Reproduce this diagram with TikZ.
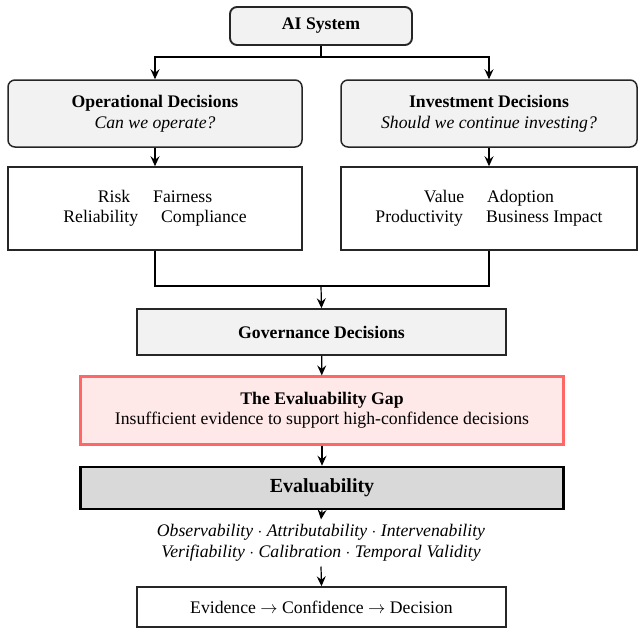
\documentclass[tikz,border=0pt]{standalone}
\usepackage{fontspec}
\setmainfont{Liberation Serif}
\usetikzlibrary{arrows.meta,calc}
\definecolor{boxgray}{HTML}{F2F2F2}
\definecolor{evalgray}{HTML}{D9D9D9}
\definecolor{gapfill}{HTML}{FFE8E8}
\definecolor{gapline}{HTML}{FF6666}
\begin{document}
\begin{tikzpicture}[x=1pt,y=-1pt,
  every node/.style={font=\fontsize{17.7}{20.5}\selectfont, align=center, inner sep=0pt},
  basebox/.style={draw=black!85, line width=1.5pt},
  roundbox/.style={basebox, rounded corners=7pt, fill=boxgray},
  plainbox/.style={basebox, fill=white},
  arr/.style={-{Stealth[length=10pt,width=9pt,inset=3.5pt]}, line width=1.2pt},
  conn/.style={line width=1.2pt}]
\useasboundingbox (0,0) rectangle (642,634);
\node[roundbox, line width=1.9pt, minimum width=182pt, minimum height=38pt] (ai) at (321,26) {\textbf{AI System}};
\node[roundbox, minimum width=294pt, minimum height=67pt] (op) at (155,113.5) {\textbf{Operational Decisions}\\\textit{Can we operate?}};
\node[roundbox, minimum width=296pt, minimum height=67pt] (inv) at (489,113.5) {\textbf{Investment Decisions}\\\textit{Should we continue investing?}};
\node[plainbox, minimum width=294pt, minimum height=83pt] (om) at (155,208.5) {Risk\hspace{23pt}Fairness\\Reliability\hspace{23pt}Compliance};
\node[plainbox, minimum width=296pt, minimum height=83pt] (im) at (489,208.5) {Value\hspace{23pt}Adoption\\Productivity\hspace{23pt}Business Impact};
\node[basebox, fill=boxgray, minimum width=369pt, minimum height=46pt] (gov) at (321.5,332) {\textbf{Governance Decisions}};
\node[draw=gapline, line width=2.2pt, fill=gapfill, minimum width=483pt, minimum height=68pt] (gap) at (322,410.5) {\textbf{The Evaluability Gap}\\Insufficient evidence to support high-confidence decisions};
\node[draw=black, line width=2.6pt, fill=evalgray, minimum width=483pt, minimum height=42pt] (eval) at (322,488) {\fontsize{20}{24}\selectfont\textbf{Evaluability}};
\node[inner sep=5pt] (dims) at (321,543) {\textit{Observability} $\cdot$ \textit{Attributability} $\cdot$ \textit{Intervenability}\\\textit{Verifiability} $\cdot$ \textit{Calibration} $\cdot$ \textit{Temporal Validity}};
\node[plainbox, minimum width=369pt, minimum height=40pt] (ev) at (321.5,607) {Evidence $\rightarrow$ Confidence $\rightarrow$ Decision};
\coordinate (j1) at (321,57);
\coordinate (j2) at (321,286);
\draw[conn] (ai.south) -- (j1);
\draw[arr] (j1) -| (op.north);
\draw[arr] (j1) -| (inv.north);
\draw[arr] (op) -- (om);
\draw[arr] (inv) -- (im);
\draw[conn] (om.south) |- (j2) -| (im.south);
\draw[arr] (j2) -- (gov.north);
\draw[arr] (gov) -- (gap);
\draw[arr] (gap) -- (eval);
\draw[arr] (eval.south) -- (dims.north);
\draw[arr] (dims.south) -- (ev.north);
\end{tikzpicture}
\end{document}
